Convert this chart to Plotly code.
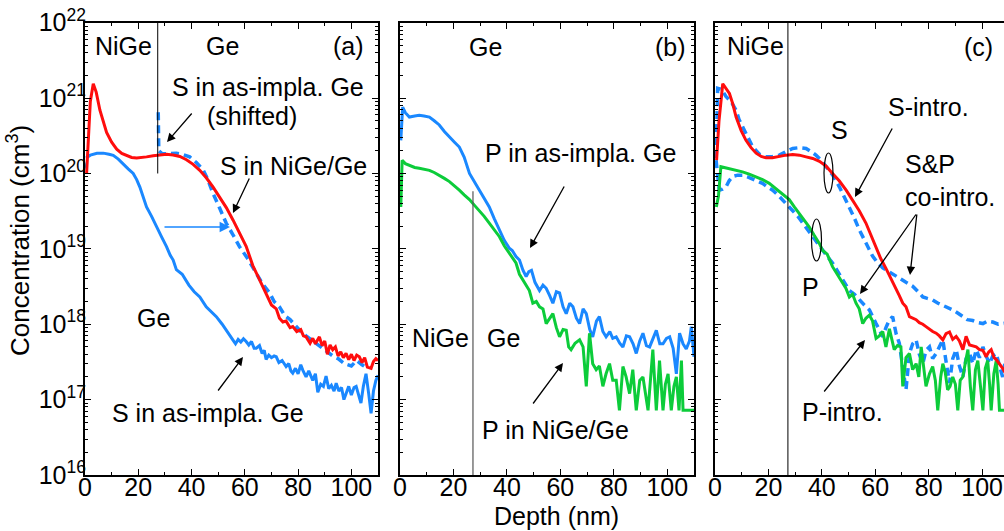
import plotly.graph_objects as go

# ---------------- data (depth in nm, concentration in cm^-3) ----------------
# Panel (a): S
a_s_nige_depth = [0.6, 1.2, 2.0, 3.1, 4.2, 5.6, 6.8, 8.1, 10.0, 11.9, 13.8, 15.6, 17.5, 19.4, 21.2, 23.1,
                  25.6, 28.1, 30.6, 33.1, 35.6, 38.1, 40.6, 43.1, 45.6, 48.1, 50.6, 53.1, 55.6, 58.1, 60.5,
                  63.0, 65.5, 68.0, 70.0, 71.8, 73.0, 74.3, 75.5, 77.0, 78.0, 79.5, 81.0, 82.0, 83.0, 84.5,
                  85.5, 86.5, 88.0, 89.0, 90.0, 91.0, 92.0, 93.0, 94.0, 95.0, 96.0, 97.0, 98.0, 99.0, 100.0,
                  101.0, 102.0, 103.0, 104.0, 105.0, 106.0, 107.4, 108.3, 109.2, 110.0]
a_s_nige_conc = [1.0e20, 3.0e20, 9.0e20, 1.55e21, 1.2e21, 6.9e20, 4.8e20, 3.5e20, 2.6e20, 2.1e20, 1.85e20,
                 1.72e20, 1.63e20, 1.6e20, 1.62e20, 1.66e20, 1.72e20, 1.78e20, 1.8e20, 1.76e20, 1.68e20,
                 1.52e20, 1.32e20, 1.1e20, 8.7e19, 6.6e19, 4.9e19, 3.5e19, 2.4e19, 1.6e19, 1.08e19,
                 6.0e18, 3.9e18, 2.5e18, 1.8e18, 1.6e18, 1.2e18, 1.07e18, 1.1e18, 9.0e17, 9.3e17, 8.0e17,
                 8.5e17, 7.0e17, 6.8e17, 5.6e17, 6.5e17, 5.5e17, 6.8e17, 5.2e17, 6.0e17, 4.0e17, 5.3e17,
                 4.6e17, 5.0e17, 3.8e17, 4.3e17, 3.6e17, 4.1e17, 3.4e17, 4.0e17, 3.3e17, 3.9e17, 3.7e17,
                 3.1e17, 3.6e17, 2.7e17, 2.6e17, 3.2e17, 3.5e17, 3.3e17]

a_s_shift_depth = [27.5, 27.7, 29.0, 31.0, 34.3, 36.5, 39.3, 41.8, 44.3, 46.0, 48.0, 50.5, 53.0, 55.5,
                   58.0, 61.0, 64.3, 66.5, 69.3, 71.0, 73.0, 75.0, 77.0, 79.0, 81.0, 83.0, 85.0, 87.0,
                   89.0, 91.0, 93.0, 95.0, 97.4, 100.0, 102.0, 104.0, 106.0]
a_s_shift_conc = [6.5e20, 2.0e20, 1.82e20, 1.85e20, 1.86e20, 1.8e20, 1.66e20, 1.4e20, 1.12e20, 8.5e19,
                  5.5e19, 3.5e19, 2.2e19, 1.55e19, 1.07e19, 7.5e18, 4.7e18, 3.5e18, 2.6e18, 2.0e18,
                  1.7e18, 1.3e18, 1.15e18, 9.5e17, 8.0e17, 7.0e17, 6.2e17, 5.6e17, 4.8e17, 4.3e17,
                  3.8e17, 3.5e17, 3.0e17, 2.8e17, 3.3e17, 2.9e17, 2.6e17]

a_s_ge_depth = [0.4, 2.0, 4.5, 6.9, 9.0, 10.6, 12.5, 14.4, 16.2, 18.1, 19.4, 20.6, 21.8, 23.1, 25.0, 26.8,
                28.7, 30.6, 32.0, 33.1, 34.3, 36.5, 39.0, 41.0, 43.1, 45.5, 47.5, 49.3, 51.5, 53.5, 55.5,
                56.5, 57.5, 58.5, 59.5, 60.5, 61.5, 62.5, 63.5, 64.3, 65.5, 66.5, 67.3, 68.0, 69.0, 70.0,
                71.0, 71.8, 72.8, 74.0, 75.5, 76.5, 77.3, 78.0, 79.0, 80.0, 81.0, 81.8, 83.0, 84.0, 85.5,
                86.5, 87.4, 88.5, 89.5, 90.5, 91.5, 92.5, 93.5, 94.3, 95.3, 96.3, 97.2, 98.0, 99.0, 100.0,
                101.0, 101.8, 102.8, 103.6, 104.5, 105.5, 106.5, 107.4, 108.3, 109.2, 110.0]
a_s_ge_conc = [1.6e20, 1.75e20, 1.85e20, 1.86e20, 1.8e20, 1.74e20, 1.55e20, 1.35e20, 1.15e20, 1.0e20,
               8.3e19, 6.6e19, 4.9e19, 3.6e19, 2.7e19, 1.95e19, 1.45e19, 1.07e19, 8.2e18, 7.1e18, 5.3e18,
               4.6e18, 3.3e18, 2.7e18, 2.3e18, 1.7e18, 1.45e18, 1.26e18, 1.0e18, 8.0e17, 6.2e17, 5.5e17,
               6.3e17, 5.8e17, 6.4e17, 5.9e17, 5.3e17, 5.9e17, 4.8e17, 4.8e17, 5.2e17, 4.1e17, 4.5e17,
               3.4e17, 3.9e17, 3.6e17, 3.8e17, 3.7e17, 3.1e17, 3.3e17, 2.75e17, 3.0e17, 2.4e17, 2.25e17,
               2.6e17, 2.2e17, 2.9e17, 2.45e17, 2.0e17, 2.4e17, 1.8e17, 2.2e17, 1.25e17, 1.6e17, 1.5e17,
               2.05e17, 1.4e17, 1.55e17, 1.3e17, 1.65e17, 1.3e17, 1.45e17, 1.0e17, 1.2e17, 1.5e17,
               1.15e17, 1.45e17, 1.5e17, 1.1e17, 9.0e16, 1.5e17, 2.2e17, 1.2e17, 6.6e16, 1.3e17, 1.8e17,
               2.1e17]

# Panel (b): P
b_p_ge_depth = [0.3, 1.0, 2.0, 3.5, 5.5, 7.2, 9.0, 11.0, 12.8, 14.7, 16.6, 18.5, 20.4, 22.2, 24.0, 26.0,
                27.8, 29.7, 31.5, 33.4, 35.3, 37.2, 39.0, 40.9, 42.0, 43.4, 44.7, 46.0, 47.2, 48.2, 49.2,
                50.5, 52.2, 53.5, 54.7, 56.0, 57.2, 58.5, 59.7, 61.0, 62.2, 63.5, 64.7, 66.0, 67.2, 68.5,
                69.7, 71.0, 72.1, 73.5, 74.6, 75.9, 77.1, 78.5, 79.6, 80.9, 82.2, 83.4, 84.7, 85.9, 87.2,
                88.4, 89.7, 90.9, 92.2, 93.4, 94.7, 95.9, 97.2, 98.4, 99.7, 100.9, 102.2, 103.4, 104.6,
                105.9, 107.1, 108.3, 109.0, 110.0]
b_p_ge_conc = [2.75e20, 7.6e20, 6.4e20, 5.6e20, 5.8e20, 5.9e20, 5.8e20, 5.6e20, 5.0e20, 4.4e20, 3.6e20,
               3.1e20, 2.6e20, 2.24e20, 1.65e20, 1.0e20, 7.8e19, 6.0e19, 4.6e19, 3.6e19, 2.5e19, 1.78e19,
               1.3e19, 1.02e19, 9.5e18, 7.9e18, 7.1e18, 5.2e18, 4.3e18, 5.0e18, 5.2e18, 3.6e18, 2.8e18,
               3.3e18, 3.0e18, 2.4e18, 1.9e18, 2.7e18, 2.6e18, 1.7e18, 1.38e18, 1.9e18, 1.7e18, 1.2e18,
               1.02e18, 1.6e18, 1.38e18, 8.5e17, 6.8e17, 1.1e18, 1.26e18, 8.0e17, 6.8e17, 8.0e17, 6.5e17,
               6.8e17, 5.6e17, 5.0e17, 7.0e17, 6.8e17, 5.5e17, 4.1e17, 6.0e17, 7.6e17, 5.2e17, 5.0e17,
               6.6e17, 8.3e17, 5.5e17, 5.5e17, 6.5e17, 6.8e17, 4.8e17, 2.2e17, 7.6e17, 5.5e17, 4.7e17,
               6.0e17, 9.3e17, 3.7e17]

b_p_nige_depth = [0.3, 0.8, 2.0, 3.5, 5.5, 7.2, 9.0, 11.0, 12.8, 14.7, 16.6, 18.5, 20.4, 22.2, 24.0, 26.0,
                  27.8, 29.7, 31.5, 33.4, 35.3, 37.2, 39.0, 40.9, 42.0, 43.4, 44.7, 45.9, 47.2, 48.4, 49.7,
                  51.0, 52.2, 53.5, 54.7, 56.0, 57.2, 58.5, 59.7, 61.0, 62.2, 63.1, 64.0, 65.5, 67.2, 68.5,
                  69.7, 70.9, 72.1, 73.4, 74.6, 75.9, 77.1, 78.4, 79.6, 80.9, 82.1, 83.4, 84.6, 85.9, 87.1,
                  88.4, 89.7, 90.9, 91.9, 92.8, 93.8, 94.6, 95.9, 97.1, 98.4, 99.3, 100.3, 101.5, 102.5,
                  103.4, 104.4, 105.3, 105.9, 107.5, 110.0]
b_p_nige_conc = [3.6e19, 1.5e20, 1.35e20, 1.29e20, 1.2e20, 1.17e20, 1.14e20, 1.1e20, 1.03e20, 9.5e19,
                 8.6e19, 7.8e19, 6.9e19, 6.0e19, 5.2e19, 4.5e19, 3.8e19, 3.2e19, 2.7e19, 2.2e19, 1.75e19,
                 1.45e19, 1.1e19, 8.7e18, 7.8e18, 6.5e18, 4.6e18, 3.9e18, 3.2e18, 2.8e18, 1.9e18, 2.0e18,
                 1.7e18, 1.6e18, 1.02e18, 1.2e18, 1.38e18, 9.0e17, 6.8e17, 8.5e17, 8.3e17, 5.0e17, 4.6e17,
                 5.6e17, 6.2e17, 5.0e17, 1.5e17, 7.6e17, 3.0e17, 2.5e17, 2.8e17, 1.5e17, 2.2e17, 3.0e17,
                 1.8e17, 1.8e17, 7.2e16, 2.75e17, 2.0e17, 1.2e17, 2.5e17, 7.2e16, 1.8e17, 2.0e17, 1.1e17,
                 7.2e16, 2.0e17, 4.6e17, 7.2e16, 3.3e17, 7.2e16, 1.6e17, 2.2e17, 7.2e16, 1.5e17, 2.0e17,
                 7.2e16, 3.3e17, 7.2e16, 7.2e16, 7.2e16]

# Panel (c): S-intro., P-intro. and S&P co-intro.
c_s_depth = [0.6, 1.5, 2.9, 4.0, 5.4, 6.6, 7.9, 9.8, 11.6, 13.5, 15.4, 17.3, 19.1, 21.5, 24.1, 26.6, 29.1,
             31.6, 34.1, 36.6, 39.1, 41.6, 44.0, 46.5, 49.1, 51.5, 54.0, 56.5, 59.0, 60.3, 62.0, 64.0,
             66.0, 67.8, 69.0, 70.3, 71.5, 72.8, 74.0, 75.3, 76.5, 77.8, 79.0, 80.3, 81.5, 82.8, 84.0,
             85.3, 86.5, 87.8, 89.0, 90.3, 91.5, 92.8, 94.0, 95.3, 96.5, 97.8, 99.0, 100.3, 101.5, 102.5,
             103.4, 104.5, 105.3, 106.5, 107.7, 108.5]
c_s_conc = [1.5e20, 5.0e20, 1.55e21, 1.35e21, 1.15e21, 8.5e20, 5.6e20, 3.7e20, 2.75e20, 2.2e20, 1.86e20,
            1.68e20, 1.62e20, 1.62e20, 1.7e20, 1.75e20, 1.78e20, 1.75e20, 1.66e20, 1.58e20, 1.45e20,
            1.25e20, 1.0e20, 8.0e19, 6.0e19, 4.4e19, 3.2e19, 2.2e19, 1.35e19, 1.05e19, 7.5e18, 5.5e18,
            4.0e18, 3.0e18, 2.4e18, 1.9e18, 1.7e18, 1.26e18, 1.2e18, 1.15e18, 1.05e18, 1.0e18, 9.3e17,
            8.5e17, 8.0e17, 7.6e17, 7.0e17, 6.2e17, 7.5e17, 7.9e17, 6.3e17, 6.9e17, 6.0e17, 4.6e17,
            6.9e17, 5.3e17, 5.2e17, 5.0e17, 4.6e17, 4.5e17, 3.7e17, 4.3e17, 4.6e17, 3.6e17, 3.4e17,
            3.0e17, 2.6e17, 2.3e17]

c_co_s_depth = [0.4, 1.0, 2.5, 4.1, 6.0, 7.9, 9.0, 10.3, 12.2, 14.1, 16.6, 19.1, 21.6, 24.1, 26.6, 29.1,
                31.6, 34.1, 36.0, 37.8, 39.7, 41.6, 44.1, 46.6, 48.5, 50.3, 52.1, 54.0, 56.5, 59.0, 60.9,
                62.8, 64.6, 66.5, 69.0, 71.5, 74.0, 76.5, 77.8, 79.5, 81.5, 83.5, 85.3, 87.0, 89.0, 91.0,
                92.8, 94.5, 96.5, 98.5, 100.3, 102.0, 104.0, 106.0, 108.5]
c_co_s_conc = [1.6e20, 1.35e21, 1.3e21, 1.05e21, 9.0e20, 6.9e20, 5.2e20, 4.2e20, 3.0e20, 2.25e20, 1.8e20,
               1.66e20, 1.68e20, 1.75e20, 1.95e20, 2.15e20, 2.2e20, 2.15e20, 1.95e20, 1.75e20, 1.5e20,
               1.23e20, 9.5e19, 6.6e19, 4.8e19, 3.6e19, 2.6e19, 1.8e19, 1.2e19, 8.0e18, 6.5e18, 5.6e18,
               5.1e18, 4.7e18, 4.1e18, 3.6e18, 3.2e18, 2.6e18, 2.3e18, 2.2e18, 2.1e18, 1.9e18, 1.78e18,
               1.65e18, 1.55e18, 1.4e18, 1.26e18, 1.15e18, 1.12e18, 1.05e18, 1.02e18, 1.1e18, 1.07e18,
               1.0e18, 1.03e18]

c_co_p_depth = [0.4, 1.0, 1.6, 2.8, 4.1, 5.3, 6.6, 8.5, 10.3, 12.2, 14.1, 16.0, 17.8, 19.7, 21.6, 23.5,
                25.3, 27.2, 29.1, 31.0, 32.8, 34.7, 36.6, 38.5, 40.3, 42.2, 44.0, 45.9, 47.8, 49.0, 50.3,
                52.2, 54.0, 55.9, 57.8, 59.0, 60.3, 61.5, 62.8, 64.0, 65.3, 66.5, 67.8, 69.0, 70.3, 71.5,
                72.8, 74.0, 75.3, 76.5, 77.8, 79.0, 80.3, 81.5, 82.8, 84.0, 85.3, 86.5, 87.8, 89.0, 90.3,
                91.5, 92.8, 94.0, 95.3, 96.5, 97.8, 99.0, 100.3, 101.5, 102.8, 104.0, 105.3, 106.5, 107.7,
                108.5]
c_co_p_conc = [1.5e20, 1.0e20, 6.0e19, 6.2e19, 6.6e19, 8.0e19, 9.1e19, 9.5e19, 9.5e19, 9.0e19, 8.5e19,
               8.0e19, 7.4e19, 6.6e19, 6.0e19, 5.2e19, 4.5e19, 3.8e19, 3.2e19, 2.7e19, 2.2e19, 1.8e19,
               1.45e19, 1.2e19, 9.5e18, 7.8e18, 6.5e18, 5.0e18, 3.9e18, 3.3e18, 2.8e18, 2.5e18, 2.1e18,
               1.8e18, 1.55e18, 1.3e18, 1.02e18, 8.5e17, 6.8e17, 9.0e17, 1.15e18, 1.26e18, 7.5e17, 5.6e17,
               2.5e17, 1.35e17, 4.1e17, 5.5e17, 6.2e17, 4.0e17, 3.0e17, 4.5e17, 5.0e17, 3.5e17, 4.1e17,
               5.0e17, 6.2e17, 3.2e17, 1.66e17, 3.5e17, 4.6e17, 2.8e17, 2.0e17, 3.5e17, 4.1e17, 3.0e17,
               4.6e17, 3.6e17, 5.0e17, 3.8e17, 3.0e17, 3.8e17, 4.1e17, 2.8e17, 2.0e17, 3.0e17]

c_p_depth = [0.5, 1.3, 2.2, 3.5, 5.4, 7.8, 10.3, 12.8, 15.4, 17.8, 20.3, 22.2, 24.1, 26.0, 27.8, 29.7,
             31.6, 33.4, 35.3, 37.2, 39.1, 40.3, 42.0, 44.0, 45.9, 47.8, 49.0, 50.3, 51.5, 52.8, 54.0,
             55.3, 56.5, 57.8, 59.0, 60.3, 61.5, 62.8, 64.0, 65.3, 66.2, 67.1, 68.3, 69.6, 70.3, 71.5,
             72.8, 74.0, 75.3, 76.3, 77.2, 78.2, 79.0, 80.3, 81.5, 82.5, 83.4, 84.5, 85.3, 86.2, 87.1,
             88.0, 89.0, 90.0, 90.9, 91.8, 92.8, 93.8, 94.7, 95.6, 96.5, 97.5, 98.4, 99.4, 100.3, 101.2,
             102.1, 102.8, 103.4, 104.4, 105.3, 106.0, 106.5, 108.5]
c_p_conc = [3.6e19, 5.0e19, 1.23e20, 1.2e20, 1.17e20, 1.12e20, 1.05e20, 9.8e19, 9.1e19, 8.3e19, 7.4e19,
            6.5e19, 5.8e19, 5.0e19, 4.5e19, 3.6e19, 2.95e19, 2.4e19, 1.95e19, 1.5e19, 1.17e19, 9.5e18,
            8.5e18, 5.8e18, 4.5e18, 3.5e18, 3.0e18, 2.3e18, 2.5e18, 1.9e18, 1.6e18, 1.02e18, 1.2e18,
            1.32e18, 1.1e18, 6.5e17, 7.0e17, 8.0e17, 5.0e17, 8.7e17, 6.0e17, 4.6e17, 5.2e17, 5.0e17,
            1.5e17, 3.6e17, 4.1e17, 2.5e17, 3.0e17, 2.0e17, 5.0e17, 2.6e17, 1.5e17, 2.2e17, 2.75e17,
            1.8e17, 7.2e16, 2.0e17, 3.0e17, 2.3e17, 1.35e17, 1.5e17, 2.0e17, 1.6e17, 7.2e16, 1.8e17,
            2.0e17, 3.2e17, 4.6e17, 1.5e17, 7.2e16, 2.5e17, 3.3e17, 1.5e17, 7.2e16, 2.6e17, 3.3e17,
            1.6e17, 7.2e16, 2.2e17, 3.3e17, 1.6e17, 7.2e16, 7.2e16]

NIGE_GE_INTERFACE = 27.3          # nm
Y_DECADES = [16, 17, 18, 19, 20, 21, 22]

# ---------------- styling ----------------
W, H = 1004, 531
FONT = "Liberation Sans, Arial, sans-serif"
RED = "#ff0d0d"
BLUE = "#1a88ff"
GREEN = "#0ccc3a"
LW = 3.0


def px(x, y):
    """pixel position -> paper coordinates"""
    return x / W, 1 - y / H


fig = go.Figure()


def curve(xs, ys, color, axis, dash=None, width=LW):
    fig.add_trace(go.Scatter(
        x=xs, y=ys, mode="lines", xaxis="x" + axis, yaxis="y" + axis,
        line=dict(color=color, width=width, dash=dash), showlegend=False, hoverinfo="skip"))


DASH = "8px,5px"

# panel (a)
curve(a_s_ge_depth, a_s_ge_conc, BLUE, "")
curve(a_s_shift_depth, a_s_shift_conc, BLUE, "", dash=DASH, width=3.5)
curve(a_s_nige_depth, a_s_nige_conc, RED, "")
curve([NIGE_GE_INTERFACE, NIGE_GE_INTERFACE], [1e20, 1e22], "black", "", width=1)

# panel (b)
curve(b_p_ge_depth, b_p_ge_conc, BLUE, "2")
curve(b_p_nige_depth, b_p_nige_conc, GREEN, "2")
curve([NIGE_GE_INTERFACE, NIGE_GE_INTERFACE], [5.8e19, 1e16], "#555555", "2", width=1.2)

# panel (c)
curve(c_co_p_depth, c_co_p_conc, BLUE, "3", dash=DASH, width=3.5)
curve(c_co_s_depth, c_co_s_conc, BLUE, "3", dash=DASH, width=3.5)
curve(c_p_depth, c_p_conc, GREEN, "3")
curve(c_s_depth, c_s_conc, RED, "3")
curve([NIGE_GE_INTERFACE, NIGE_GE_INTERFACE], [1e16, 1e22], "black", "3", width=1)

# ---------------- axes ----------------
y_dom = [1 - 475 / H, 1 - 22.7 / H]
x_doms = [[85 / W, 378 / W], [400 / W, 694 / W], [715 / W, 1.0]]
x_ranges = [[0, 110], [0, 110], [0, 108.2]]

minor_y = [m * 10.0 ** d for d in Y_DECADES[:-1] for m in range(2, 10)]
tickfont = dict(family=FONT, size=25, color="black")

layout = dict(
    template="none",
    width=W, height=H, autosize=False,
    margin=dict(l=0, r=0, t=0, b=0, pad=0),
    paper_bgcolor="white", plot_bgcolor="white",
    font=dict(family=FONT, size=25, color="black"),
)
for i in range(3):
    sfx = "" if i == 0 else str(i + 1)
    layout["xaxis" + sfx] = dict(
        domain=x_doms[i], range=x_ranges[i], anchor="y" + sfx, automargin=False,
        showline=True, linewidth=2, linecolor="black", mirror="ticks",
        ticks="inside", ticklen=6, tickwidth=1, tickcolor="black", ticklabelstandoff=-11,
        dtick=20, tick0=0, showgrid=False, zeroline=False, tickfont=tickfont,
        minor=dict(ticks="inside", dtick=10, ticklen=3, tickcolor="black", showgrid=False),
    )
    layout["yaxis" + sfx] = dict(
        domain=y_dom, type="log", range=[16, 22], anchor="x" + sfx, automargin=False,
        showline=True, linewidth=2, linecolor="black",
        mirror="ticks" if i < 2 else False,
        ticks="inside", ticklen=6, tickwidth=1, tickcolor="black", ticklabelstandoff=-8,
        tickvals=[10.0 ** d for d in Y_DECADES],
        ticktext=["10<sup>%d</sup>" % d for d in Y_DECADES],
        showticklabels=(i == 0), showgrid=False, zeroline=False, tickfont=tickfont,
        minor=dict(ticks="inside", tickvals=minor_y, ticklen=3, tickcolor="black", showgrid=False),
    )
fig.update_layout(**layout)

# ---------------- labels and arrows ----------------
ann = []


def text(x, y, s, anchor="center", size=25):
    xp, yp = px(x, y)
    ann.append(dict(x=xp, y=yp, xref="paper", yref="paper", text=s, showarrow=False,
                    xanchor=anchor, yanchor="middle", font=dict(family=FONT, size=size, color="black")))


def arrow(tail, head, color="black", width=1.3):
    hx, hy = px(*head)
    ann.append(dict(x=hx, y=hy, xref="paper", yref="paper", text="", showarrow=True,
                    ax=tail[0] - head[0], ay=tail[1] - head[1], arrowhead=2, arrowsize=1.3,
                    arrowwidth=width, arrowcolor=color, standoff=0))


# panel (a)
text(123, 46, "NiGe")
text(222, 46, "Ge")
text(348, 46, "(a)")
text(268, 87, "S in as-impla. Ge")
text(252, 116, "(shifted)")
text(293, 166, "S in NiGe/Ge")
text(153, 318, "Ge")
text(208, 413, "S in as-impla. Ge")
arrow((193, 112), (167, 142))
arrow((250, 177), (233, 213))
arrow((217, 392), (243, 357))
arrow((163, 227), (230, 227), color=BLUE, width=1.6)

# panel (b)
text(485, 47, "Ge")
text(670, 47, "(b)")
text(580, 153, "P in as-impla. Ge")
text(440, 338, "NiGe")
text(503, 338, "Ge")
text(555, 430, "P in NiGe/Ge")
arrow((565, 185), (530, 248))
arrow((532, 405), (563, 363))

# panel (c)
text(755, 46, "NiGe")
text(978, 47, "(c)")
text(928, 107, "S-intro.")
text(839, 130, "S")
text(903, 164, "S&amp;P", anchor="left")
text(903, 197, "co-intro.", anchor="left")
text(810, 287, "P")
text(842, 412, "P-intro.")
arrow((893, 127), (855, 197))
arrow((917, 213), (910, 275))
arrow((917, 213), (860, 294))
arrow((823, 393), (865, 340))

# axis titles
text(556, 516, "Depth (nm)")
xp, yp = px(18, 241)
ann.append(dict(x=xp, y=yp, xref="paper", yref="paper", text="Concentration (cm<sup>3</sup>)",
                showarrow=False, textangle=-90, xanchor="center", yanchor="middle",
                font=dict(family=FONT, size=26, color="black")))

fig.update_layout(annotations=ann)

# ellipses grouping the S and P profiles in panel (c)
shapes = []
for cx, cy, rw, rh in [(828.5, 173, 4.5, 20), (816.5, 240, 5, 21)]:
    x0, y1 = px(cx - rw, cy - rh)
    x1, y0 = px(cx + rw, cy + rh)
    shapes.append(dict(type="circle", xref="paper", yref="paper", x0=x0, x1=x1, y0=y0, y1=y1,
                       line=dict(color="black", width=1.2)))
fig.update_layout(shapes=shapes)

fig.write_html("out.html")
